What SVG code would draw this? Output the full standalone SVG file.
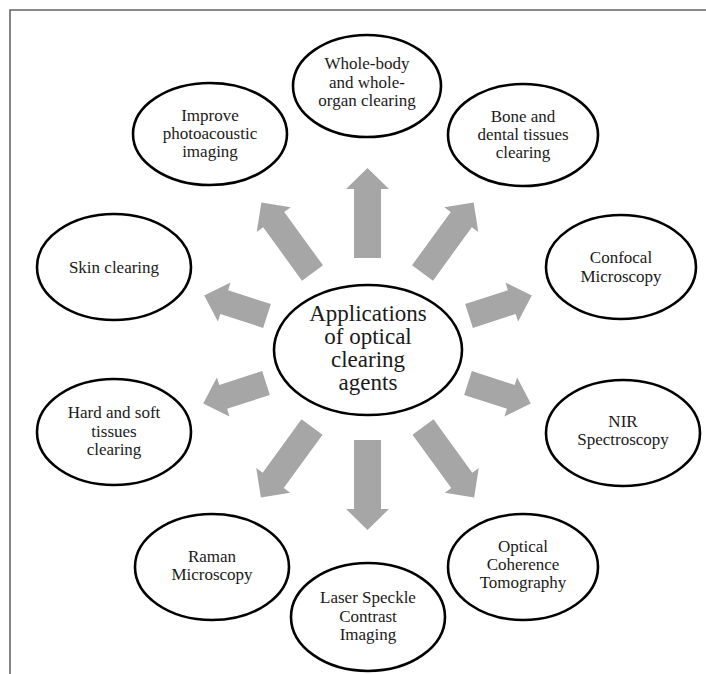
<svg xmlns="http://www.w3.org/2000/svg" xmlns:xlink="http://www.w3.org/1999/xlink" width="706" height="674" viewBox="0 0 706 674">
<style>
.node ellipse{fill:#fff;stroke:#000;stroke-width:2.6}
.node text{font-family:"Liberation Serif","Times New Roman",serif;font-size:17px;fill:#1a1a1a;text-anchor:middle}
#center text{font-size:23px}
.arr{fill:#a6a6a6}
.frame{fill:none;stroke:#666;stroke-width:1.6}
</style>
<defs>
<path id="aL" d="M0,-13.5 H69 V-21.5 L90,0 L69,21.5 V13.5 H0 Z"/>
<path id="aD" d="M0,-13 H66 V-21 L87,0 L66,21 V13 H0 Z"/>
<path id="aS" d="M0,-12.5 H45 V-20.5 L66,0 L45,20.5 V12.5 H0 Z"/>
</defs>
<rect width="706" height="674" fill="#fff"/>
<path class="frame" d="M10,674 V10 H706"/>
<g id="connectors" class="arr">
<use xlink:href="#aL" transform="translate(367.5,258) rotate(-90)"/>
<use xlink:href="#aL" transform="translate(367.5,440) rotate(90)"/>
<use xlink:href="#aD" transform="translate(312.5,273) rotate(-126)"/>
<use xlink:href="#aD" transform="translate(422.5,273) rotate(-54)"/>
<use xlink:href="#aD" transform="translate(312,427) rotate(126)"/>
<use xlink:href="#aD" transform="translate(423,427) rotate(54)"/>
<use xlink:href="#aS" transform="translate(267,316) rotate(-162)"/>
<use xlink:href="#aS" transform="translate(469,316) rotate(-18)"/>
<use xlink:href="#aS" transform="translate(266,383) rotate(162)"/>
<use xlink:href="#aS" transform="translate(468,383) rotate(18)"/>
</g>
<g id="center" class="node">
<ellipse cx="368" cy="350" rx="94" ry="65"/>
<text x="368" y="321">Applications</text>
<text x="368" y="344">of optical</text>
<text x="368" y="367">clearing</text>
<text x="368" y="390">agents</text>
</g>
<g id="n-wholebody" class="node">
<ellipse cx="367" cy="86" rx="74" ry="51"/>
<text x="367" y="69">Whole-body</text>
<text x="367" y="87.5">and whole-</text>
<text x="367" y="106">organ clearing</text>
</g>
<g id="n-photoacoustic" class="node">
<ellipse cx="210" cy="134" rx="77" ry="51"/>
<text x="210" y="121">Improve</text>
<text x="210" y="139">photoacoustic</text>
<text x="210" y="157">imaging</text>
</g>
<g id="n-bone" class="node">
<ellipse cx="523" cy="135" rx="75" ry="51"/>
<text x="523" y="122">Bone and</text>
<text x="523" y="140">dental tissues</text>
<text x="523" y="158">clearing</text>
</g>
<g id="n-skin" class="node">
<ellipse cx="114" cy="267" rx="77" ry="53"/>
<text x="114" y="273">Skin clearing</text>
</g>
<g id="n-confocal" class="node">
<ellipse cx="621" cy="267" rx="75" ry="52"/>
<text x="621" y="263">Confocal</text>
<text x="621" y="282">Microscopy</text>
</g>
<g id="n-hardsoft" class="node">
<ellipse cx="114" cy="432" rx="77" ry="53"/>
<text x="114" y="418">Hard and soft</text>
<text x="114" y="437">tissues</text>
<text x="114" y="455">clearing</text>
</g>
<g id="n-nir" class="node">
<ellipse cx="623" cy="433" rx="77" ry="53"/>
<text x="623" y="427">NIR</text>
<text x="623" y="445">Spectroscopy</text>
</g>
<g id="n-raman" class="node">
<ellipse cx="212" cy="567" rx="77" ry="53"/>
<text x="212" y="562">Raman</text>
<text x="212" y="580">Microscopy</text>
</g>
<g id="n-laser" class="node">
<ellipse cx="368" cy="617" rx="77" ry="54"/>
<text x="368" y="603">Laser Speckle</text>
<text x="368" y="622">Contrast</text>
<text x="368" y="640">Imaging</text>
</g>
<g id="n-oct" class="node">
<ellipse cx="523" cy="567" rx="75" ry="53"/>
<text x="523" y="552">Optical</text>
<text x="523" y="570">Coherence</text>
<text x="523" y="588">Tomography</text>
</g>
</svg>
